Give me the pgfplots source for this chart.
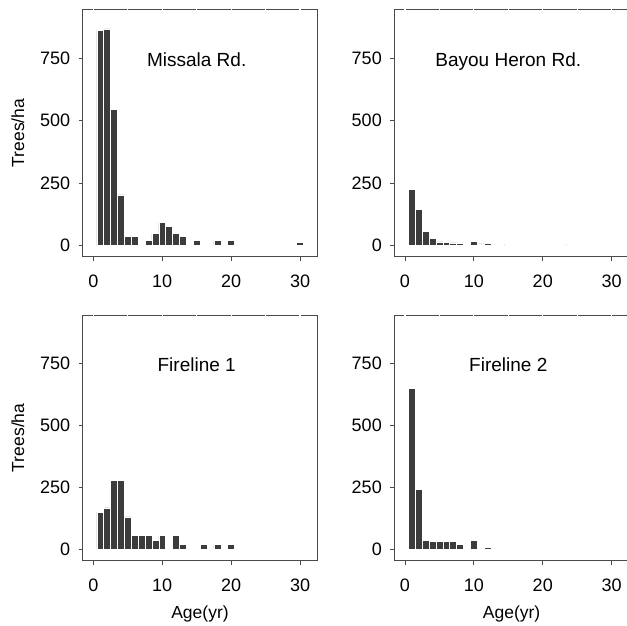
\documentclass[border=0pt]{standalone}
\usepackage{fontspec}
\setmainfont{Liberation Sans}
\usepackage{pgfplots}
\pgfplotsset{compat=1.18}
\definecolor{barc}{HTML}{3C3C3C}
\definecolor{axc}{HTML}{4A4A4A}
\pgfplotsset{
  panel/.style={
    scale only axis, width=234.6pt, height=247.4pt,
    xmin=-1.54, xmax=32.5, ymin=-44, ymax=945,
    xtick={0,10,20,30}, ytick={0,250,500,750},
    tick align=outside, major tick length=4pt,
    axis line style={axc, line width=0.8pt},
    tick style={axc, line width=0.8pt},
    xtick pos=bottom, ytick pos=left,
    extra x ticks={0,5,...,30},
    extra x tick style={xtick pos=top, tick align=center, major tick length=3pt,
      major tick style={white, line width=1.2pt}, xticklabels={}},
    /pgf/number format/assume math mode=true,
    ticklabel style={font=\fontsize{18}{20}\selectfont},
    xticklabel style={yshift=-11pt},
    yticklabel style={xshift=-5pt},
    label style={font=\fontsize{17.5}{20}\selectfont},
    ylabel style={at={(axis description cs:-0.276,0.5)}, anchor=center},
    xlabel style={at={(axis description cs:0.5,0)}, anchor=center, yshift=-53pt},
    clip=false,
  },
  bars/.style={ybar, bar width=1, fill=barc, draw=white, line width=0.5pt},
}
\tikzset{ttl/.style={font=\fontsize{19}{22}\selectfont, anchor=base}}
\begin{document}
\begin{tikzpicture}
\path[use as bounding box] (0,0) rectangle (627pt,-625pt);
% Missala Rd.
\begin{axis}[panel, at={(82.7pt,-256.7pt)}, anchor=south west, ylabel={Trees/ha}]
\addplot[bars] coordinates {(1,861)(2,867)(3,546)(4,203)(5,37)(6,37)(8,20)(9,48)(10,93)(11,76)(12,48)(13,37)(15,20)(18,20)(20,20)(30,13)};
\node[ttl] at (axis cs:15,716) {Missala Rd.};
\end{axis}
% Bayou Heron Rd.
\begin{axis}[panel, at={(394.3pt,-256.7pt)}, anchor=south west]
\addplot[bars] coordinates {(1,224)(2,145)(3,56)(4,30)(5,15)(6,12)(7,11)(8,8)(9,6)(10,16)(11,7)(12,8)(13,6)(15,6)(16,6)(17,6)(20,6)(24,6)};
\node[ttl] at (axis cs:15,716) {Bayou Heron Rd.};
\end{axis}
% Fireline 1
\begin{axis}[panel, height=245.7pt, ymin=-47, at={(82.7pt,-560.7pt)}, anchor=south west, ylabel={Trees/ha}, xlabel={Age(yr)}]
\addplot[bars] coordinates {(1,149)(2,166)(3,278)(4,278)(5,130)(6,54)(7,54)(8,54)(9,36)(10,54)(12,54)(13,19)(16,19)(18,19)(20,19)};
\node[ttl] at (axis cs:15,716) {Fireline 1};
\end{axis}
% Fireline 2
\begin{axis}[panel, height=245.7pt, ymin=-47, at={(394.3pt,-560.7pt)}, anchor=south west, xlabel={Age(yr)}]
\addplot[bars] coordinates {(1,648)(2,242)(3,36)(4,30)(5,30)(6,30)(7,30)(8,19)(10,36)(12,7)};
\node[ttl] at (axis cs:15,716) {Fireline 2};
\end{axis}
\end{tikzpicture}
\end{document}
